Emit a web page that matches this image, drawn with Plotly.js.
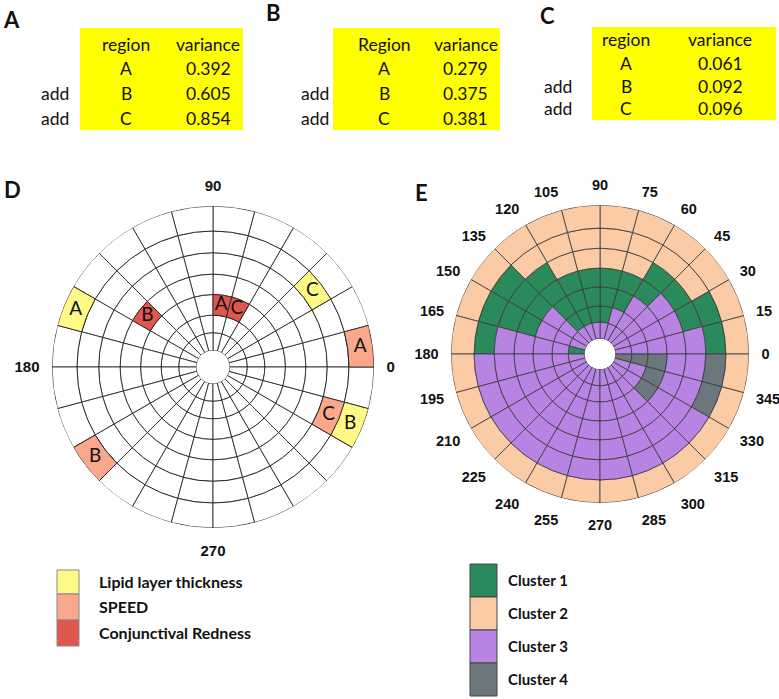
<!DOCTYPE html>
<html><head><meta charset="utf-8">
<script src="https://cdn.plot.ly/plotly-3.0.1.min.js"></script>
<style>html,body{margin:0;padding:0;background:#fff}#chart{width:779px;height:699px}</style>
</head><body><div id="chart"></div>
<script>
// ---------- Tables A, B, C ----------
const tableRegions = ['A', 'B', 'C'];
const rowPrefixes = ['', 'add', 'add'];
const headerA = ['region', 'variance'];
const headerB = ['Region', 'variance'];
const headerC = ['region', 'variance'];
const varianceA = ['0.392', '0.605', '0.854'];
const varianceB = ['0.279', '0.375', '0.381'];
const varianceC = ['0.061', '0.092', '0.096'];

// ---------- Panel D ----------
const dMeasures = ['Lipid layer thickness', 'SPEED', 'Conjunctival Redness'];
const dColors = ['#FFF986', '#FBA78B', '#E0574F'];
const dCellMeasure = ['Lipid layer thickness', 'Lipid layer thickness', 'Lipid layer thickness',
                      'SPEED', 'SPEED', 'SPEED',
                      'Conjunctival Redness', 'Conjunctival Redness', 'Conjunctival Redness'];
const dCellRegion = ['A', 'B', 'C', 'A', 'B', 'C', 'A', 'B', 'C'];
const dCellSector = [150, 330, 30, 0, 210, 330, 75, 135, 60];   // sector start angle (deg)
const dCellRing = [7, 7, 6, 7, 7, 6, 3, 4, 3];                  // ring index, 1 = innermost
const dAxisLabels = [0, 90, 180, 270];

// ---------- Panel E ----------
const eClusterNames = ['Cluster 1', 'Cluster 2', 'Cluster 3', 'Cluster 4'];
const eColors = ['#2A8A5B', '#FBCBA6', '#B784E4', '#6B767D'];
const eSectorStart = [0, 15, 30, 45, 60, 75, 90, 105, 120, 135, 150, 165,
                      180, 195, 210, 225, 240, 255, 270, 285, 300, 315, 330, 345];
// cluster of each cell: one row per sector, rings from innermost (1) to outermost (7)
const eCells = [
  [3,3,3,3,3,1,2], [3,3,3,3,1,1,2], [3,3,3,3,1,2,2], [3,3,3,1,1,2,2],
  [3,3,1,1,2,2,2], [3,1,1,1,2,2,2], [3,1,1,1,2,2,2], [3,1,1,1,2,2,2],
  [3,1,1,1,1,2,2], [3,3,3,1,1,1,2], [3,3,3,1,1,1,2], [1,3,3,3,3,1,2],
  [3,3,3,3,3,3,2], [3,3,3,3,3,3,2], [3,3,3,3,3,3,2], [3,3,3,3,3,3,2],
  [3,3,3,3,3,3,2], [3,3,3,3,3,3,2], [3,3,3,3,3,3,2], [3,3,3,3,3,3,2],
  [3,3,3,3,3,3,2], [3,3,4,3,3,3,2], [3,3,4,3,3,4,2], [4,4,4,3,3,4,2]
];
const eAxisLabels = eSectorStart;

// ---------- grid structure (fraction of outer radius) ----------
const sectorWidth = 15;
const ringEdges = [0.103, 0.213, 0.322, 0.45, 0.577, 0.71, 0.845, 1.0];
const nSectors = 24;

const W = 779, H = 699;
const px = x => x / W;
const py = y => 1 - y / H;

function cellTrace(subplot, sectors, rings, color, lineColor, lineW) {
  return {
    type: 'barpolar', subplot: subplot,
    theta: sectors.map(s => s + sectorWidth / 2),
    base: rings.map(k => ringEdges[k - 1]),
    r: rings.map(k => ringEdges[k] - ringEdges[k - 1]),
    width: sectors.map(() => sectorWidth),
    marker: {color: color, line: {color: lineColor, width: lineW}},
    hoverinfo: 'skip', showlegend: false
  };
}

const traces = [];
// D grid (white cells)
{
  const s = [], k = [];
  for (let i = 0; i < nSectors; i++) for (let j = 1; j < ringEdges.length; j++) { s.push(i * sectorWidth); k.push(j); }
  traces.push(cellTrace('polar', s, k, '#FFFFFF', '#222', 0.85));
}
// D coloured cells
dMeasures.forEach((m, mi) => {
  const idx = dCellMeasure.map((v, i) => v === m ? i : -1).filter(i => i >= 0);
  traces.push(cellTrace('polar', idx.map(i => dCellSector[i]), idx.map(i => dCellRing[i]), dColors[mi], '#222', 0.85));
});
// D cell letters
traces.push({
  type: 'scatterpolar', subplot: 'polar', mode: 'text',
  theta: dCellSector.map(s => s + sectorWidth / 2),
  r: dCellRing.map(k => (ringEdges[k - 1] + ringEdges[k]) / 2),
  text: dCellRegion,
  textfont: {family: 'Lato, "Open Sans", sans-serif', size: 19, color: '#111'},
  hoverinfo: 'skip', showlegend: false
});
// E cells by cluster
eClusterNames.forEach((c, ci) => {
  const s = [], k = [];
  eCells.forEach((row, si) => row.forEach((v, ri) => { if (v === ci + 1) { s.push(eSectorStart[si]); k.push(ri + 1); } }));
  traces.push(cellTrace('polar2', s, k, eColors[ci], '#3a3a3a', 0.8));
});

function polarLayout(cx, cy, R, labels, fontSize) {
  return {
    domain: {x: [px(cx - R), px(cx + R)], y: [py(cy + R), py(cy - R)]},
    hole: ringEdges[0], bgcolor: 'rgba(0,0,0,0)',
    barmode: 'overlay', bargap: 0,
    radialaxis: {range: [ringEdges[0], 1], showgrid: false, showline: false, showticklabels: false, ticks: ''},
    angularaxis: {
      rotation: 0, direction: 'counterclockwise',
      tickmode: 'array', tickvals: labels, ticktext: labels.map(String),
      showgrid: false, showline: false,
      ticks: 'outside', ticklen: 9, tickcolor: 'rgba(0,0,0,0)',
      tickfont: {family: '"Liberation Sans", Arial, sans-serif', size: fontSize, color: '#111', weight: 'bold'}
    }
  };
}

const annotations = [];
const shapes = [];
const txtFont = {family: 'Lato, "Open Sans", sans-serif', size: 17.5, color: '#111'};
const boldFontD = {family: 'Lato, "Open Sans", sans-serif', size: 16, color: '#111', weight: 'bold'};
const boldFontE = {family: 'Lato, "Open Sans", sans-serif', size: 15, color: '#111', weight: 'bold'};
const letterFont = {family: 'Lato, "Open Sans", sans-serif', size: 22, color: '#111', weight: 'bold'};

function ann(x, y, text, font, xanchor) {
  annotations.push({xref: 'paper', yref: 'paper', x: px(x), y: py(y), text: text, showarrow: false,
    font: font, xanchor: xanchor || 'center', yanchor: 'middle'});
}

// tables
const tables = [
  {box: [80, 28, 243, 130], cols: [55, 126, 208], rows: [44, 68, 94, 119], header: headerA, vals: varianceA},
  {box: [333, 28, 500, 130], cols: [315, 384, 466], rows: [44, 68, 94, 119], header: headerB, vals: varianceB},
  {box: [592, 27, 776, 120], cols: [558, 626, 720], rows: [40, 63, 86, 109], header: headerC, vals: varianceC}
];
tables.forEach(t => {
  shapes.push({type: 'rect', xref: 'paper', yref: 'paper', x0: px(t.box[0]), x1: px(t.box[2]), y0: py(t.box[3]), y1: py(t.box[1]),
    fillcolor: '#FFFF00', line: {width: 0}, layer: 'below'});
  ann(t.cols[1], t.rows[0], t.header[0], txtFont);
  ann(t.cols[2], t.rows[0], t.header[1], txtFont);
  tableRegions.forEach((r, i) => {
    if (rowPrefixes[i]) ann(t.cols[0], t.rows[i + 1], rowPrefixes[i], txtFont);
    ann(t.cols[1], t.rows[i + 1], r, txtFont);
    ann(t.cols[2], t.rows[i + 1], t.vals[i], txtFont);
  });
});

// panel letters
ann(11, 19, 'A', letterFont); ann(273, 12, 'B', letterFont); ann(547, 16, 'C', letterFont);
ann(12, 189, 'D', letterFont); ann(421, 192, 'E', letterFont);

// legend D
const dLegY = [570, 594, 620, 646];
dMeasures.forEach((m, i) => {
  shapes.push({type: 'rect', xref: 'paper', yref: 'paper', x0: px(57), x1: px(79), y0: py(dLegY[i + 1]), y1: py(dLegY[i]),
    fillcolor: dColors[i], line: {color: '#888', width: 1}});
  ann(97, (dLegY[i] + dLegY[i + 1]) / 2 - 1, m, boldFontD, 'left');
});
// legend E
const eLegY = [564, 597, 630, 663, 696];
eClusterNames.forEach((c, i) => {
  shapes.push({type: 'rect', xref: 'paper', yref: 'paper', x0: px(470), x1: px(497), y0: py(eLegY[i + 1]), y1: py(eLegY[i]),
    fillcolor: eColors[i], line: {color: '#444', width: 1}});
  ann(506, (eLegY[i] + eLegY[i + 1]) / 2 - 1, c, boldFontE, 'left');
});

const layout = {
  width: W, height: H, margin: {l: 0, r: 0, t: 0, b: 0},
  paper_bgcolor: '#fff', showlegend: false,
  polar: polarLayout(213, 367, 161, dAxisLabels, 15),
  polar2: polarLayout(600, 354, 149, eAxisLabels, 14.5),
  annotations: annotations, shapes: shapes
};
Plotly.newPlot('chart', traces, layout, {staticPlot: true});
</script></body></html>
